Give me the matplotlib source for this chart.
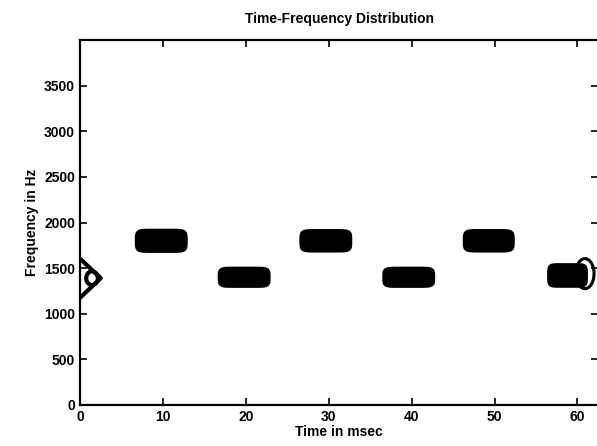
import numpy as np
import matplotlib
matplotlib.use("Agg")
import matplotlib.pyplot as plt

plt.rcParams['font.family'] = ['Liberation Sans', 'DejaVu Sans']

# tone segments: centre time (ms), frequency (Hz), half width (ms), half height (Hz)
seg_times = [9.8, 19.8, 29.65, 39.65, 49.3, 58.8]
seg_freqs = [1800, 1400, 1800, 1400, 1800, 1420]
seg_widths = [2.75, 2.75, 2.75, 2.75, 2.7, 2.1]
seg_heights = [98, 85, 95, 85, 95, 100]

# transients at the start and end of the window (ms, Hz)
onset_time, onset_freq = 1.45, 1390
onset_len, onset_spread = 2.5, 215
edge_time, edge_freq = 60.9, 1440

xticks = [0, 10, 20, 30, 40, 50, 60]
yticks = [0, 500, 1000, 1500, 2000, 2500, 3000, 3500]

t = np.linspace(0, 62.5, 900)
f = np.linspace(0, 4000, 1000)
T, F = np.meshgrid(t, f)

Z = np.zeros_like(T)
for t0, f0, w, h in zip(seg_times, seg_freqs, seg_widths, seg_heights):
    Z += np.exp(-((T - t0) / w) ** 8) * np.exp(-((F - f0) / h) ** 4)

# triangular onset outline with a small ring inside
tri = np.abs(F - onset_freq) / onset_spread + T / onset_len
ring = ((T - onset_time) / 0.7) ** 2 + ((F - onset_freq) / 75) ** 2
edge = np.exp(-((T - edge_time) / 1.0) ** 2 - ((F - edge_freq) / 150) ** 2)

fig = plt.figure(figsize=(5.97, 4.46), dpi=100)
ax = fig.add_axes([0.134, 0.092, 0.868, 0.818])

ax.contourf(T, F, Z, levels=[0.15, 10], colors='black')
ax.contour(T, F, Z, levels=[0.08, 0.5, 0.9], colors='black', linewidths=1.2)
ax.contour(T, F, tri, levels=[1.0], colors='black', linewidths=3.0)
ax.contour(T, F, ring, levels=[1.0], colors='black', linewidths=3.0)
ax.contour(T, F, edge, levels=[0.3], colors='black', linewidths=2.2)

ax.set_xlim(0, 62.5)
ax.set_ylim(0, 4000)
ax.set_xticks(xticks)
ax.set_yticks(yticks)
ax.tick_params(direction='in', top=True, right=True, length=5, width=1.2,
               labelsize=10)
for lab in ax.get_xticklabels() + ax.get_yticklabels():
    lab.set_fontweight('bold')
for s in ax.spines.values():
    s.set_linewidth(1.6)

ax.set_title('Time-Frequency Distribution', fontsize=10, fontweight='bold', pad=12)
ax.set_xlabel('Time in msec', fontsize=10, fontweight='bold', labelpad=1)
ax.set_ylabel('Frequency in Hz', fontsize=10, fontweight='bold', labelpad=4)

fig.savefig('out.png', dpi=100)
